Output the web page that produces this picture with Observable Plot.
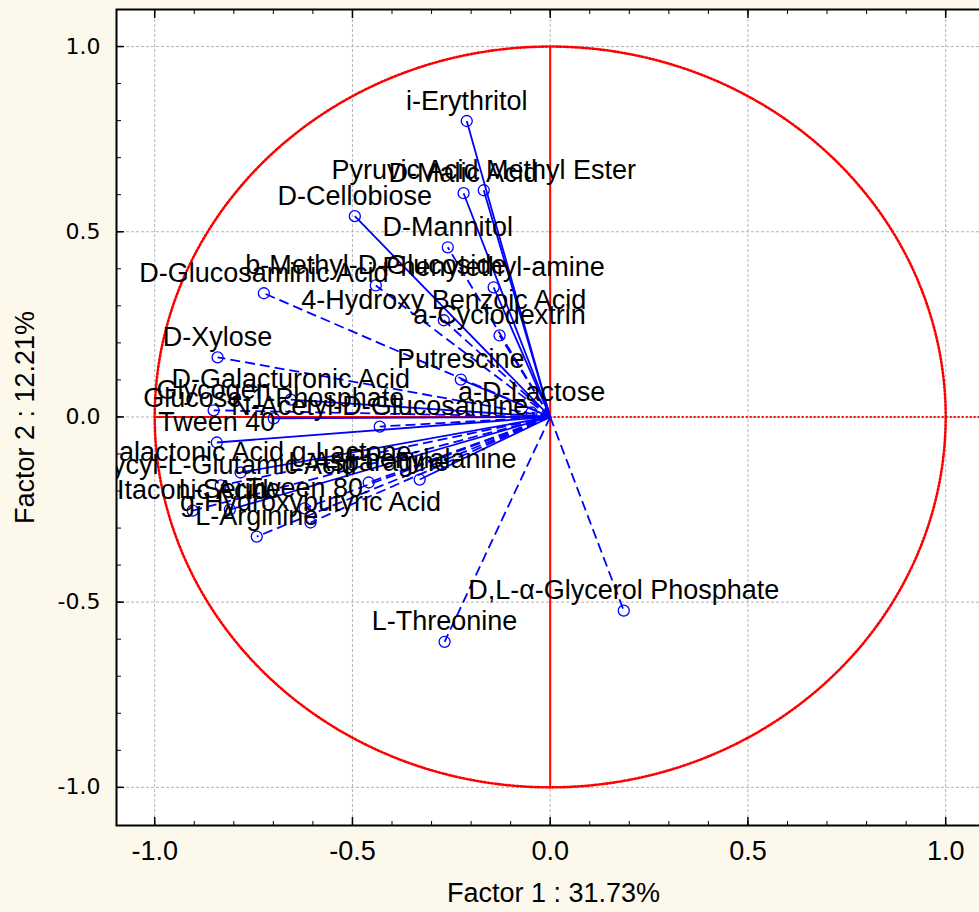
<!DOCTYPE html>
<html><head><meta charset="utf-8">
<script src="https://cdn.jsdelivr.net/npm/d3@7"></script>
<script src="https://cdn.jsdelivr.net/npm/@observablehq/plot@0.6"></script>
<style>
html,body{margin:0;padding:0;background:#fdf8ec;}
#chart{width:979px;height:912px;overflow:hidden;position:relative;}
</style></head><body><div id="chart"></div>
<script>
const names = [
  "i-Erythritol", "Pyruvic Acid Methyl Ester", "D-Malic Acid", "D-Cellobiose", "D-Mannitol",
  "b-Methyl-D-Glucoside", "Phenylethyl-amine", "D-Glucosaminic Acid", "4-Hydroxy Benzoic Acid",
  "a-Cyclodextrin", "D-Xylose", "Putrescine", "D-Galacturonic Acid", "a-D-Lactose", "Glycogen",
  "Glucose-1-Phosphate", "N-Acetyl-D-Glucosamine", "Tween 40", "D-Galactonic Acid g-Lactone",
  "Glycyl-L-Glutamic Acid", "L-Asparagine", "L-Phenylalanine", "Itaconic Acid", "L-Serine",
  "Tween 80", "g-Hydroxybutyric Acid", "L-Arginine", "D,L-\u03B1-Glycerol Phosphate", "L-Threonine"
];
const factor1 = [
  -0.211, -0.168, -0.219, -0.494, -0.259,
  -0.441, -0.143, -0.724, -0.269,
  -0.128, -0.841, -0.226, -0.656, -0.047, -0.851,
  -0.699, -0.431, -0.843, -0.783,
  -0.833, -0.459, -0.330, -0.904, -0.810,
  -0.621, -0.606, -0.742, 0.186, -0.267
];
const factor2 = [
  0.799, 0.612, 0.604, 0.542, 0.458,
  0.355, 0.350, 0.334, 0.261,
  0.220, 0.161, 0.101, 0.047, 0.012, 0.018,
  -0.004, -0.026, -0.069, -0.150,
  -0.185, -0.177, -0.169, -0.253, -0.250,
  -0.247, -0.285, -0.323, -0.523, -0.607
];
const dashedNames = [
  "D-Mannitol", "b-Methyl-D-Glucoside", "D-Glucosaminic Acid", "4-Hydroxy Benzoic Acid",
  "a-Cyclodextrin", "D-Xylose", "Glycogen", "N-Acetyl-D-Glucosamine", "Glycyl-L-Glutamic Acid",
  "Itaconic Acid", "g-Hydroxybutyric Acid", "L-Arginine", "L-Threonine",
  "D,L-\u03B1-Glycerol Phosphate", "L-Asparagine", "Tween 80", "a-D-Lactose"
];
const majorTicks = [-1, -0.5, 0, 0.5, 1];
const majorTickLabels = ["-1.0", "-0.5", "0.0", "0.5", "1.0"];
const minorTicks = [-1.0, -0.9, -0.8, -0.7, -0.6, -0.5, -0.4, -0.3, -0.2, -0.1, 0.0,
  0.1, 0.2, 0.3, 0.4, 0.5, 0.6, 0.7, 0.8, 0.9, 1.0, 1.1];
const xTitle = "Factor 1 : 31.73%";
const yTitle = "Factor 2 : 12.21%";

const data = names.map((name, i) => ({name, x: factor1[i], y: factor2[i], dashed: dashedNames.includes(name)}));
// unit correlation circle
const circle = d3.range(0, 361, 1).map(a => ({x: Math.cos(a * Math.PI / 180), y: Math.sin(a * Math.PI / 180)}));

const red = "#ff0000", blue = "#0000ff";
const narrow = "'Liberation Sans Narrow', 'Arial Narrow', 'Liberation Sans', sans-serif";
const fmt = d => majorTickLabels[majorTicks.indexOf(d)];

const plot = Plot.plot({
  width: 990, height: 912,
  marginLeft: 116, marginRight: 0, marginTop: 9, marginBottom: 87,
  x: {domain: [-1.0966, 1.1133]},
  y: {domain: [-1.103, 1.1]},
  style: {background: "transparent", maxWidth: "none", overflow: "visible"},
  marks: [
    Plot.frame({fill: "white", stroke: null}),
    Plot.gridX(majorTicks, {stroke: "#b4b4b4", strokeOpacity: 1, strokeDasharray: "3,2"}),
    Plot.gridY(majorTicks, {stroke: "#b4b4b4", strokeOpacity: 1, strokeDasharray: "3,2"}),
    Plot.line(circle, {x: "x", y: "y", stroke: red, strokeWidth: 2.6, strokeDasharray: "1.6,2"}),
    Plot.ruleX([0], {y1: -1, y2: 1, stroke: red, strokeWidth: 2}),
    Plot.ruleY([0], {x1: -1, x2: 0, stroke: red, strokeWidth: 2}),
    Plot.ruleY([0], {x1: 0, x2: 1.1133, stroke: red, strokeWidth: 2, strokeDasharray: "2,2"}),
    Plot.link(data.filter(d => !d.dashed), {x1: 0, y1: 0, x2: "x", y2: "y", stroke: blue, strokeWidth: 1.8}),
    Plot.link(data.filter(d => d.dashed), {x1: 0, y1: 0, x2: "x", y2: "y", stroke: blue, strokeWidth: 1.8, strokeDasharray: "10,5"}),
    Plot.dot(data, {x: "x", y: "y", r: 5.5, stroke: blue, strokeWidth: 1.3, fill: "none"}),
    Plot.text(data, {x: "x", y: "y", text: "name", dy: -20, fontSize: 27, fontFamily: "'Liberation Sans', Arial, sans-serif", fill: "black", clip: true}),
    // inward ticks
    Plot.axisX(majorTicks, {anchor: "bottom", tickSize: -8, text: null, label: null, strokeWidth: 1.5}),
    Plot.axisX(minorTicks, {anchor: "bottom", tickSize: -4, text: null, label: null}),
    Plot.axisX(majorTicks, {anchor: "top", tickSize: -8, text: null, label: null, strokeWidth: 1.5}),
    Plot.axisX(minorTicks, {anchor: "top", tickSize: -4, text: null, label: null}),
    Plot.axisY(majorTicks, {anchor: "left", tickSize: -8, text: null, label: null, strokeWidth: 1.5}),
    Plot.axisY(minorTicks.filter(d => d <= 1), {anchor: "left", tickSize: -5, text: null, label: null}),
    // tick labels
    Plot.axisY(majorTicks, {anchor: "left", tickSize: 0, tickPadding: 16, tickFormat: fmt, fontSize: 22, fontFamily: "'DejaVu Sans', Verdana, sans-serif", label: null}),
    Plot.axisX(majorTicks, {anchor: "bottom", tickSize: 0, tickPadding: 15, tickFormat: fmt, fontSize: 27, fontFamily: narrow, label: null}),
    // axis titles
    Plot.text([xTitle], {text: d => d, frameAnchor: "bottom", lineAnchor: "middle", dy: 68, fontSize: 27, fontFamily: narrow, fill: "black"}),
    Plot.text([yTitle], {text: d => d, frameAnchor: "left", textAnchor: "middle", lineAnchor: "middle", dx: -91, rotate: -90, fontSize: 27, fontFamily: narrow, fill: "black"}),
    Plot.frame({stroke: "black", strokeWidth: 2})
  ]
});
document.getElementById("chart").appendChild(plot);
</script></body></html>
